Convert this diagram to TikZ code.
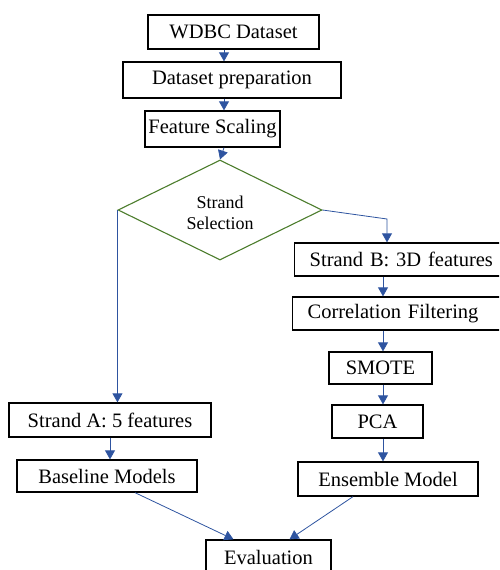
\documentclass[tikz,border=0pt]{standalone}
\usepackage{fontspec}
\setmainfont{Liberation Serif}
\usetikzlibrary{shapes.geometric,arrows.meta}
\definecolor{flowblue}{RGB}{46,84,160}
\definecolor{selgreen}{RGB}{76,125,44}
\tikzstyle{stepbox}=[
    draw=black, line width=1.3pt,
    rectangle, inner sep=0pt,
    font=\fontsize{20.5}{22}\selectfont,
]
\tikzstyle{cutbox}=[
    stepbox, inner xsep=15pt,
    align=left,
]
\tikzstyle{choice}=[
    draw=selgreen, line width=1.1pt,
    diamond, aspect=2, inner sep=0pt,
    align=center,
    font=\fontsize{18}{21}\selectfont,
]
\tikzstyle{flow}=[
    draw=flowblue, line width=0.8pt,
    -{Triangle[width=10pt,length=9pt]},
]

\begin{document}
\begin{tikzpicture}[x=1pt,y=-1pt]
    \useasboundingbox (0,0) rectangle (499,570);
    \clip (0,0) rectangle (499,570);
    \coordinate (spine) at (224,0);
    \coordinate (rspine) at (383,0);
    \coordinate (bturn) at (387,219);
    \node (wdbc) at (233.5,32) [stepbox, minimum width=171pt, minimum height=34pt] {WDBC Dataset};
    \node (prep) at (232,80) [stepbox, minimum width=218pt, minimum height=36pt] {Dataset preparation};
    \node (scale) at (212.5,129) [stepbox, minimum width=135pt, minimum height=36pt] {Feature Scaling};
    \node (sel) at (220,210) [choice, minimum width=204pt, minimum height=100pt] {\\[-3pt]Strand\\Selection};
    \node (sb) at (294,259.5) [cutbox, anchor=west, text width=200pt, minimum height=33pt] {Strand B: 3D features};
    \node (cf) at (292,313.5) [cutbox, anchor=west, text width=200pt, minimum height=33pt] {Correlation Filtering};
    \node (smote) at (380.5,368) [stepbox, minimum width=103pt, minimum height=32pt] {SMOTE};
    \node (pca) at (377.5,421.5) [stepbox, minimum width=91pt, minimum height=33pt] {PCA};
    \node (ens) at (388,479) [stepbox, minimum width=180pt, minimum height=34pt] {Ensemble Model};
    \node (sa) at (110,420) [stepbox, minimum width=202pt, minimum height=34pt] {Strand A: 5 features};
    \node (base) at (107,476) [stepbox, minimum width=180pt, minimum height=32pt] {Baseline Models};
    \node (eval) at (268.5,557) [stepbox, minimum width=125pt, minimum height=34pt] {Evaluation};

    \draw[flow] (wdbc.south -| spine) -- (prep.north -| spine);
    \draw[flow] (prep.south -| spine) -- (scale.north -| spine);
    \draw[flow] (scale.south -| spine) -- (sel.north);
    \draw[flow] (sel.west) -- (sel.west |- sa.north);
    \draw[flow] (sel.east) -- (bturn) -- (bturn |- sb.north);
    \draw[flow] (sb.south -| rspine) -- (cf.north -| rspine);
    \draw[flow] (cf.south -| rspine) -- (smote.north -| rspine);
    \draw[flow] (smote.south -| rspine) -- (pca.north -| rspine);
    \draw[flow] (pca.south -| rspine) -- (ens.north -| rspine);
    \draw[flow] (sa.south) -- (sa.south |- base.north);
    \draw[flow] ([xshift=28pt]base.south) -- ([xshift=-35pt]eval.north);
    \draw[flow] ([xshift=-35pt]ens.south) -- ([xshift=21pt]eval.north);
\end{tikzpicture}
\end{document}
